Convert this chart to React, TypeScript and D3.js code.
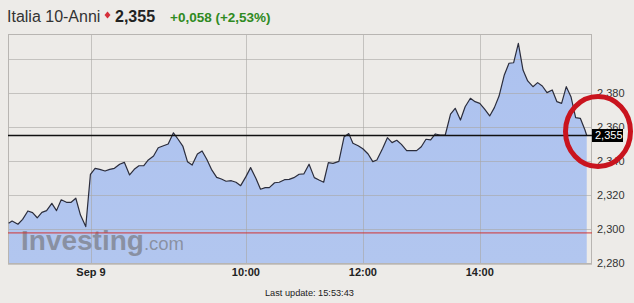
import React from "react";
import * as d3 from "d3";

const times = [5.94, 6.0, 6.1, 6.18, 6.27, 6.35, 6.43, 6.51, 6.59, 6.68, 6.76, 6.84, 6.93, 7.01, 7.09, 7.17, 7.26, 7.34, 7.42, 7.5, 7.59, 7.67, 7.75, 7.84, 7.92, 8.01, 8.09, 8.17, 8.25, 8.33, 8.42, 8.5, 8.59, 8.67, 8.76, 8.84, 8.92, 9.0, 9.08, 9.17, 9.25, 9.33, 9.41, 9.5, 9.58, 9.66, 9.75, 9.83, 9.91, 10.0, 10.08, 10.17, 10.25, 10.33, 10.4, 10.49, 10.57, 10.66, 10.74, 10.82, 10.91, 10.99, 11.08, 11.17, 11.25, 11.33, 11.41, 11.49, 11.59, 11.68, 11.76, 11.83, 11.92, 12.0, 12.09, 12.17, 12.24, 12.34, 12.42, 12.5, 12.58, 12.66, 12.75, 12.83, 12.92, 13.0, 13.08, 13.16, 13.24, 13.32, 13.41, 13.5, 13.58, 13.67, 13.75, 13.84, 13.92, 14.0, 14.08, 14.17, 14.25, 14.33, 14.42, 14.5, 14.58, 14.66, 14.74, 14.82, 14.91, 14.99, 15.07, 15.15, 15.24, 15.32, 15.4, 15.48, 15.56, 15.64, 15.72, 15.8, 15.83];
const values = [2.3034, 2.3047, 2.3028, 2.3057, 2.3106, 2.3096, 2.3066, 2.3098, 2.3108, 2.3151, 2.3108, 2.3172, 2.3157, 2.3157, 2.3181, 2.3082, 2.3014, 2.3322, 2.3357, 2.3351, 2.3341, 2.3351, 2.3357, 2.3381, 2.3392, 2.3318, 2.3351, 2.3372, 2.3372, 2.3406, 2.3429, 2.3478, 2.349, 2.35, 2.3566, 2.3528, 2.3488, 2.3396, 2.3376, 2.3441, 2.3459, 2.341, 2.3351, 2.3304, 2.3294, 2.3281, 2.3284, 2.3275, 2.3255, 2.3308, 2.3361, 2.3298, 2.3234, 2.3243, 2.3243, 2.3272, 2.3275, 2.329, 2.3292, 2.3302, 2.3322, 2.3324, 2.3381, 2.3302, 2.3288, 2.3275, 2.339, 2.3386, 2.3398, 2.3543, 2.3561, 2.3504, 2.349, 2.3472, 2.3441, 2.3396, 2.3406, 2.3475, 2.3537, 2.3508, 2.3522, 2.3498, 2.3461, 2.3461, 2.3461, 2.3484, 2.3528, 2.3524, 2.3559, 2.3553, 2.3553, 2.3676, 2.371, 2.3641, 2.3719, 2.3769, 2.3749, 2.3739, 2.3706, 2.3665, 2.3714, 2.3782, 2.3906, 2.3975, 2.3978, 2.4092, 2.3935, 2.3871, 2.3837, 2.3861, 2.3841, 2.3802, 2.3818, 2.3749, 2.3739, 2.3837, 2.3778, 2.3655, 2.3651, 2.3582, 2.355];

const xTickValues = [7.35, 10, 12, 14];
const xTickLabels = ["Sep 9", "10:00", "12:00", "14:00"];
const yGridValues = [2.3, 2.32, 2.34, 2.36, 2.38, 2.4];
const yLabelValues = [2.28, 2.3, 2.32, 2.34, 2.36, 2.38];

const lastValue = 2.355;
const prevClose = 2.2977;
const title = "Italia 10-Anni";
const changeText = "+0,058 (+2,53%)";
const updateText = "Last update: 15:53:43";

const W = 634;
const H = 303;
const L = 8, R = 592, T = 34, B = 263;

const fmt = (v: number) => d3.format(".3f")(v).replace(".", ",");

export default function App() {
  const x = d3.scaleLinear().domain([5.93, 15.92]).range([L, R]);
  const y = d3.scaleLinear().domain([2.28, 2.4147]).range([B, T]);
  const pts = times.map((t, i) => [t, values[i]] as [number, number]);
  const line = d3.line<[number, number]>().x((d) => x(d[0])).y((d) => y(d[1]));
  const area = d3
    .area<[number, number]>()
    .x((d) => x(d[0]))
    .y0(B)
    .y1((d) => y(d[1]));
  const font = "'Liberation Sans', Arial, sans-serif";
  const bg = "#edebe8";
  return (
    <svg
      width={W}
      height={H}
      style={{ position: "absolute", left: 0, top: 0, background: bg, fontFamily: font }}
    >
      <defs>
        <linearGradient id="ag" x1="0" y1="0" x2="0" y2="1">
          <stop offset="0" stopColor="#adc2ef" />
          <stop offset="1" stopColor="#b2c6ef" />
        </linearGradient>
        <clipPath id="lblclip">
          <rect x={592} y={0} width={42} height={y(lastValue) - 6.5} />
        </clipPath>
      </defs>
      <rect x={0} y={0} width={W} height={H} fill={bg} />
      {/* title */}
      <text x={7} y={22} fontSize={16} fill="#333">{title}</text>
      <path d="M104.5,15 L107.5,11.5 L110.5,15 L107.5,18.5 Z" fill="#d6303a" />
      <text x={115} y={22} fontSize={16} fontWeight="bold" fill="#222">{fmt(lastValue)}</text>
      <text x={170} y={21.5} fontSize={13.5} fontWeight="bold" fill="#2f8a22">{changeText}</text>

      {/* plot area */}
      <path d={area(pts) || ""} fill="url(#ag)" />
      {yGridValues.map((v) => (
        <line key={v} x1={L} x2={R} y1={Math.round(y(v)) + 0.5} y2={Math.round(y(v)) + 0.5} stroke="#a9a6a4" strokeOpacity={0.6} />
      ))}
      {xTickValues.map((t) => (
        <line key={t} x1={Math.round(x(t)) + 0.5} x2={Math.round(x(t)) + 0.5} y1={T} y2={B} stroke="#a9a6a4" strokeOpacity={0.6} />
      ))}
      <rect x={L + 0.5} y={T + 0.5} width={R - L - 1} height={B - T} fill="none" stroke="#b8b5b2" />
      <line x1={L} x2={R} y1={B + 1.5} y2={B + 1.5} stroke="#c8c5c2" />

      {/* watermark */}
      <text x={21} y={249.5} fontSize={28} fontWeight="bold" fill="#7a7c84" fillOpacity={0.72}>
        Investing<tspan fontSize={18.5} fontWeight="normal">.com</tspan>
      </text>

      {/* reference lines */}
      <line x1={L} x2={R} y1={y(prevClose)} y2={y(prevClose)} stroke="#d03434" strokeWidth={1} />
      <path d={line(pts) || ""} fill="none" stroke="#2b2d3c" strokeWidth={1.2} strokeLinejoin="round" />
      <line x1={L} x2={R} y1={y(lastValue)} y2={y(lastValue)} stroke="#111" strokeWidth={1.3} />

      {/* x labels */}
      {xTickValues.map((t, i) => (
        <text key={t} x={x(t)} y={276} fontSize={11} fontWeight="bold" fill="#222" textAnchor="middle">
          {xTickLabels[i]}
        </text>
      ))}
      {/* y labels */}
      {yLabelValues.map((v) => (
        <text
          key={v}
          x={597}
          y={y(v) + 4}
          fontSize={11}
          fill="#333"
          clipPath={Math.abs(v - 2.36) < 1e-9 ? "url(#lblclip)" : undefined}
        >
          {fmt(v)}
        </text>
      ))}
      <rect x={592} y={y(lastValue) - 6.5} width={31} height={13} fill="#000" />
      <text x={595} y={y(lastValue) + 4} fontSize={11} fill="#fff">{fmt(lastValue)}</text>

      <text x={265} y={296} fontSize={9.2} fill="#222">{updateText}</text>

      {/* red highlight circle */}
      <ellipse cx={598} cy={131.5} rx={32.5} ry={35} fill="none" stroke="#c9141e" strokeWidth={5} />
    </svg>
  );
}
